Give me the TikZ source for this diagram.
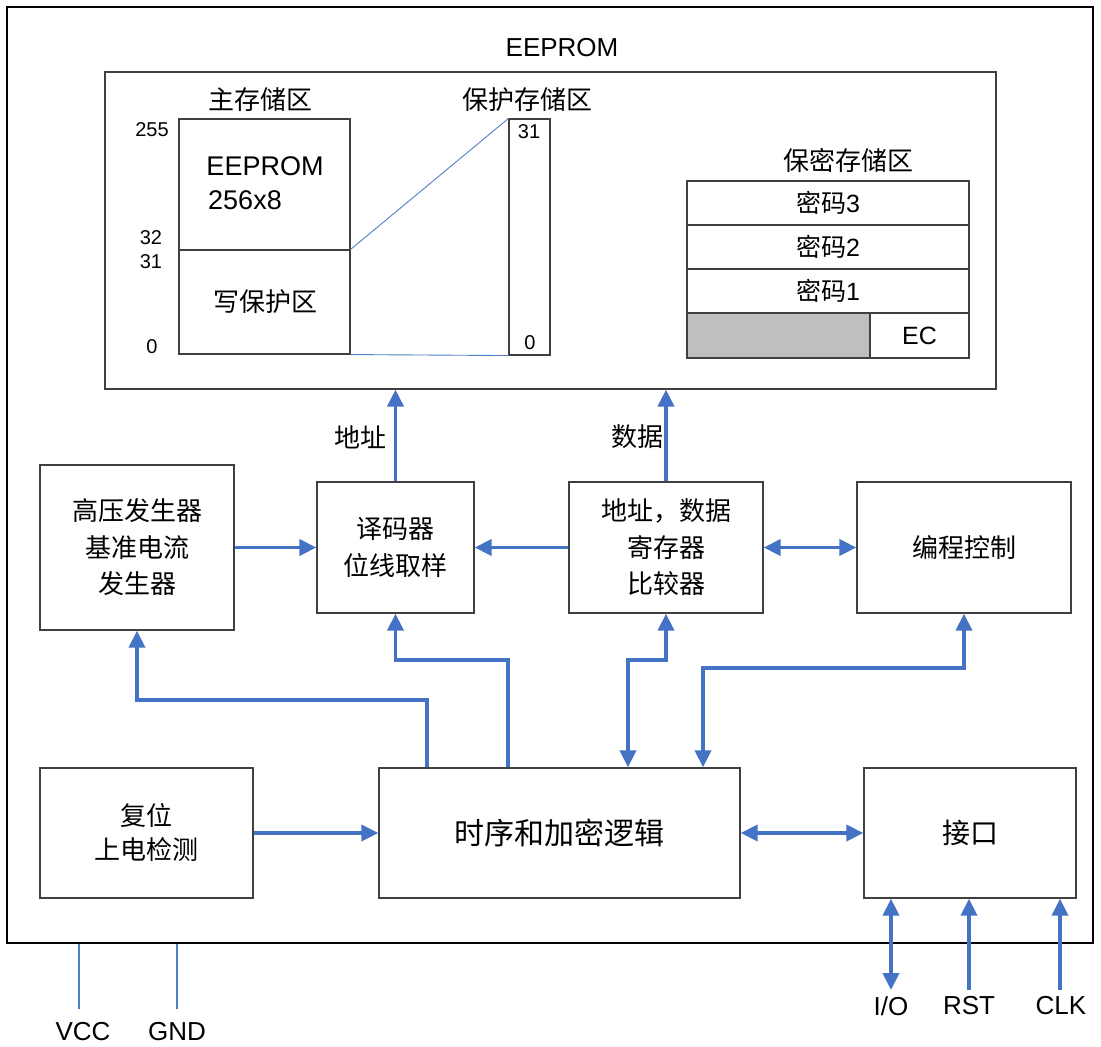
\documentclass[tikz,border=0pt]{standalone}
\usepackage{fontspec}
\setmainfont{Liberation Sans}
\newfontfamily\cjk{Noto Sans CJK SC}
\usetikzlibrary{arrows.meta}
\definecolor{bl}{HTML}{4472C4}
\definecolor{thinbl}{HTML}{4F7FCC}
\definecolor{boxc}{HTML}{404040}
\definecolor{grayf}{HTML}{BFBFBF}
\tikzset{
  blk/.style={draw=boxc, line width=1.3pt, fill=white, align=center, inner sep=0pt,
    font=\cjk\fontsize{26}{36.5}\selectfont},
  mem/.style={draw=boxc, line width=1.1pt, fill=white, inner sep=0pt},
  lbl/.style={inner sep=0pt, font=\cjk\fontsize{26}{30}\selectfont},
  num/.style={inner sep=0pt, font=\fontsize{20}{24}\selectfont},
  lat/.style={inner sep=0pt, font=\fontsize{27}{30}\selectfont},
  arr/.style={draw=bl, line width=3.8pt, -{Triangle[length=17pt,width=16pt]}},
  darr/.style={draw=bl, line width=3.8pt, {Triangle[length=17pt,width=16pt]}-{Triangle[length=17pt,width=16pt]}},
  pin/.style={draw=thinbl, line width=1.1pt},
}
\begin{document}
\begin{tikzpicture}[x=1pt,y=-1pt]
\useasboundingbox (0,0) rectangle (1101,1047);
% outer chip frame
\node[draw=black, line width=2.4pt, minimum width=1086pt, minimum height=936pt, inner sep=0pt] (chip) at (550,475) {};
\node[lat, font=\fontsize{26}{30}\selectfont] (eet) at (562,48) {EEPROM};
% EEPROM memory box
\node[mem, minimum width=891pt, minimum height=317pt] (ee) at (550.5,230.5) {};
\node[lbl] (mlab) at (260,100) {主存储区};
\node[mem, minimum width=171pt, minimum height=131pt] (mtop) at (264.5,184.5) {};
\node[mem, minimum width=171pt, minimum height=104pt] (mbot) at (264.5,302) {};
\node[lat] (eepr) at (265,166) {EEPROM};
\node[lat] (sz) at (245,200) {256x8};
\node[lbl] (wp) at (265,302) {写保护区};
\node[num] (n255) at (152,130) {255};
\node[num] (n32) at (151,238) {32};
\node[num] (n31) at (151,262) {31};
\node[num] (n0) at (152,347) {0};
\node[lbl] (plab) at (527,100) {保护存储区};
\node[mem, minimum width=41pt, minimum height=236pt] (pb) at (529.5,237) {};
\node[num] (p31) at (529,132) {31};
\node[num] (p0) at (530,343) {0};
\draw[pin, line width=0.9pt] (mbot.north east) -- (pb.north west);
\draw[pin, line width=0.9pt] (mbot.south east) -- (pb.south west);
% secret memory
\node[lbl] (slab) at (848,160) {保密存储区};
\node[mem, minimum width=282pt, minimum height=44pt, font=\fontsize{25}{30}\selectfont] (k3) at (828,203) {{\cjk 密码}3};
\node[mem, minimum width=282pt, minimum height=44pt, font=\fontsize{25}{30}\selectfont] (k2) at (828,247) {{\cjk 密码}2};
\node[mem, minimum width=282pt, minimum height=44pt, font=\fontsize{25}{30}\selectfont] (k1) at (828,291) {{\cjk 密码}1};
\node[mem, fill=grayf, minimum width=183pt, minimum height=45pt] (gr) at (778.5,335.5) {};
\node[mem, minimum width=99pt, minimum height=45pt, font=\fontsize{25}{30}\selectfont] (ec) at (919.5,335.5) {EC};
% functional blocks
\node[blk, minimum width=194pt, minimum height=165pt] (gy) at (137,547.5) {高压发生器\\基准电流\\发生器};
\node[blk, minimum width=157pt, minimum height=131pt] (ym) at (395.5,547.5) {译码器\\位线取样};
\node[blk, minimum width=194pt, minimum height=131pt] (ad) at (666,547.5) {地址，数据\\寄存器\\比较器};
\node[blk, minimum width=214pt, minimum height=131pt] (pc) at (964,547.5) {编程控制};
\node[blk, minimum width=213pt, minimum height=130pt, font=\cjk\fontsize{26}{34}\selectfont] (rs) at (146.5,833) {复位\\上电检测};
\node[blk, minimum width=361pt, minimum height=130pt, font=\cjk\fontsize{30}{36}\selectfont] (sx) at (559.5,833) {时序和加密逻辑};
\node[blk, minimum width=212pt, minimum height=130pt, font=\cjk\fontsize{28}{36}\selectfont] (jk) at (970,833) {接口};
% data/address arrows
\draw[arr] (ym.north) -- (ym.north |- ee.south);
\node[lbl] (addr) at (360,437) {地址};
\draw[arr] (ad.north) -- (ad.north |- ee.south);
\node[lbl] (data) at (637,437) {数据};
\draw[arr] (gy.east) -- (ym.west);
\draw[arr] (ad.west) -- (ym.east);
\draw[darr] (ad.east) -- (pc.west);
\draw[arr] (rs.east) -- (sx.west);
\draw[darr] (sx.east) -- (jk.west);
% elbow connectors
\coordinate (e1) at (427,700);
\coordinate (e2) at (508,660);
\coordinate (e3) at (628,660);
\coordinate (e4) at (703,668);
\draw[arr] (sx.north -| e1) -- (e1) -| (gy.south);
\draw[arr] (sx.north -| e2) -- (e2) -| (ym.south);
\draw[darr] (sx.north -| e3) -- (e3) -| (ad.south);
\draw[darr] (sx.north -| e4) -- (e4) -| (pc.south);
% pins
\coordinate (pio) at (891,990);
\coordinate (prst) at (969,990);
\coordinate (pclk) at (1060,990);
\draw[darr] (pio) -- (pio |- jk.south);
\draw[arr] (prst) -- (prst |- jk.south);
\draw[arr] (pclk) -- (pclk |- jk.south);
\node[lat, font=\fontsize{26}{30}\selectfont] (lio) at (891,1006) {I/O};
\node[lat, font=\fontsize{26}{30}\selectfont] (lrst) at (969,1006) {RST};
\node[lat, font=\fontsize{26}{30}\selectfont] (lclk) at (1061,1006) {CLK};
\coordinate (pvcc) at (79,1009);
\coordinate (pgnd) at (177,1009);
\draw[pin] (pvcc) -- (pvcc |- chip.south);
\draw[pin] (pgnd) -- (pgnd |- chip.south);
\node[lat, font=\fontsize{26}{30}\selectfont] (lvcc) at (83,1032) {VCC};
\node[lat, font=\fontsize{26}{30}\selectfont] (lgnd) at (177,1032) {GND};
\end{tikzpicture}
\end{document}
